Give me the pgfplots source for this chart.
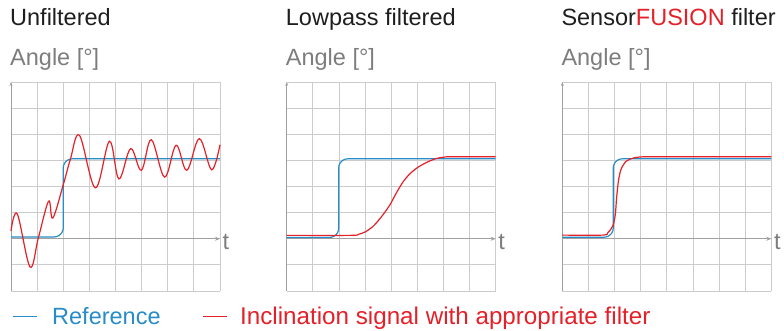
\documentclass[border=0pt]{standalone}
\usepackage{pgfplots}
\pgfplotsset{compat=1.18}
\usepackage{fontspec}
\setmainfont{Liberation Sans}
\usetikzlibrary{arrows.meta}
\definecolor{refblue}{RGB}{40,140,198}
\definecolor{sigred}{RGB}{228,32,40}
\definecolor{gridc}{RGB}{204,204,204}
\definecolor{axc}{RGB}{160,160,160}
\definecolor{greytext}{RGB}{125,125,125}
\definecolor{titletext}{RGB}{30,30,30}
\pgfplotsset{panel/.style={
  scale only axis, width=209bp, height=209bp,
  xmin=0, xmax=8, ymin=-2, ymax=6,
  xtick={0,...,8}, ytick={-2,...,6},
  xticklabels={}, yticklabels={},
  major tick length=0pt,
  grid=major, grid style={line width=0.8bp, draw=gridc},
  axis x line=middle, axis y line=left,
  axis line style={draw=axc, line width=0.8bp},
  x axis line style={-{Stealth[length=5bp,width=4bp]}},
  y axis line style={-{Stealth[length=4bp,width=3bp]}},
  anchor=south west, clip=false,
}}
\newcommand{\bigf}{\fontsize{23.5bp}{28bp}\selectfont}
\begin{document}
\begin{tikzpicture}
\path[use as bounding box] (0,0) rectangle (784bp,331bp);
% Panel 1
\begin{axis}[panel, at={(11bp,40bp)}]
\addplot[refblue, line width=1.2bp] coordinates {(0,0.07) (1.65,0.07) (1.741,0.082) (1.825,0.117) (1.897,0.173) (1.953,0.245) (1.988,0.329) (2.0,0.42) (2.0,2.71) (2.012,2.801) (2.047,2.885) (2.103,2.958) (2.175,3.013) (2.259,3.048) (2.35,3.06) (8,3.06)};
\addplot[sigred, line width=1.2bp, smooth, tension=0.6] coordinates {(0,0.3) (0.24,0.95) (0.73,-1.08) (1.05,0.05) (1.44,1.44) (1.60,0.79) (2.01,2.1) (2.27,3.03) (2.62,3.96) (3.23,1.95) (3.77,3.73) (4.13,2.29) (4.58,3.45) (4.99,2.62) (5.37,3.79) (5.88,2.36) (6.32,3.58) (6.73,2.62) (7.21,3.83) (7.68,2.64) (8.0,3.6)};
\end{axis}
% Panel 2
\begin{axis}[panel, at={(286.7bp,40bp)}]
\addplot[refblue, line width=1.2bp] coordinates {(0,0.05) (1.64,0.05) (1.731,0.062) (1.815,0.097) (1.887,0.153) (1.943,0.225) (1.978,0.309) (1.99,0.4) (1.99,2.71) (2.002,2.801) (2.037,2.885) (2.093,2.958) (2.165,3.013) (2.249,3.048) (2.34,3.06) (8,3.06)};
\addplot[sigred, line width=1.2bp, smooth] coordinates {(0,0.13) (2.45,0.13) (2.75,0.17) (3.0,0.26) (3.29,0.46) (3.61,0.82) (3.94,1.28) (4.19,1.74) (4.45,2.17) (4.71,2.48) (5.0,2.72) (5.35,2.92) (5.72,3.07) (6.0,3.12) (6.3,3.14) (8,3.14)};
\end{axis}
% Panel 3
\begin{axis}[panel, at={(562.3bp,40bp)}]
\addplot[refblue, line width=1.2bp] coordinates {(0,0.06) (1.6,0.06) (1.691,0.072) (1.775,0.107) (1.847,0.163) (1.903,0.235) (1.938,0.319) (1.95,0.41) (1.95,2.71) (1.962,2.801) (1.997,2.885) (2.053,2.958) (2.125,3.013) (2.209,3.048) (2.3,3.06) (8,3.06)};
\addplot[sigred, line width=1.2bp, smooth] coordinates {(0,0.14) (1.55,0.14) (1.75,0.24) (1.94,0.5) (2.03,0.94) (2.08,1.58) (2.15,2.22) (2.25,2.66) (2.45,2.97) (2.76,3.1) (3.15,3.14) (3.5,3.14) (8,3.14)};
\end{axis}
% Titles
\node[anchor=base west, inner sep=0, text=titletext] at (10bp,305.3bp) {\bigf Unfiltered};
\node[anchor=base west, inner sep=0, text=titletext] at (285.7bp,305.3bp) {\bigf Lowpass filtered};
\node[anchor=base west, inner sep=0, text=titletext] at (561.3bp,305.3bp) {\bigf Sensor\textcolor{sigred}{FUSION} filter};
\foreach \xx in {10,285.7,561.3} {
  \node[anchor=base west, inner sep=0, text=greytext] at (\xx bp,265bp) {\bigf Angle [°]};
}
\foreach \xx in {222.5,498.2,774} {
  \node[anchor=base west, inner sep=0, text=greytext] at (\xx bp,81bp) {\bigf t};
}
% Legend
\draw[refblue, line width=1.2bp] (12.7bp,14.3bp) -- (37.3bp,14.3bp);
\node[anchor=base west, inner sep=0, text=refblue] at (52bp,6.7bp) {\bigf Reference};
\draw[sigred, line width=1.2bp] (203bp,14.3bp) -- (227bp,14.3bp);
\node[anchor=base west, inner sep=0, text=sigred] at (240bp,6.7bp) {\fontsize{24.2bp}{28bp}\selectfont Inclination signal with appropriate filter};
\end{tikzpicture}
\end{document}
